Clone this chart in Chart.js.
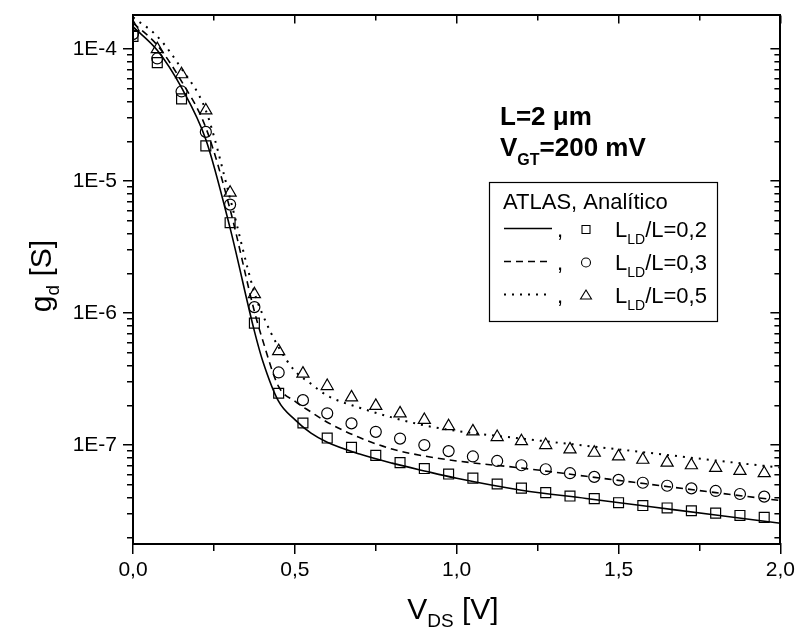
<!DOCTYPE html>
<html><head><meta charset="utf-8">
<script src="https://cdn.jsdelivr.net/npm/chart.js@4.4.0/dist/chart.umd.min.js"></script>
<style>html,body{margin:0;padding:0;background:#fff}canvas{display:block}</style>
</head><body>
<canvas id="c" width="799" height="632"></canvas>
<script>
// ---- data ----
const vds = [0, 0.075, 0.15, 0.225, 0.3, 0.375, 0.45, 0.525, 0.6, 0.675, 0.75, 0.825, 0.9, 0.975,
             1.05, 1.125, 1.2, 1.275, 1.35, 1.425, 1.5, 1.575, 1.65, 1.725, 1.8, 1.875, 1.95];
// ATLAS simulation points
const atlas02 = [1.25e-4, 7.9e-5, 4.2e-5, 1.85e-5, 4.84e-6, 8.4e-7, 2.47e-7, 1.47e-7, 1.13e-7, 9.6e-8,
                 8.35e-8, 7.36e-8, 6.64e-8, 6.03e-8, 5.62e-8, 5.07e-8, 4.72e-8, 4.36e-8, 4.11e-8, 3.93e-8,
                 3.66e-8, 3.48e-8, 3.34e-8, 3.18e-8, 3.05e-8, 2.93e-8, 2.83e-8];
const atlas03 = [1.3e-4, 8.5e-5, 4.78e-5, 2.36e-5, 6.64e-6, 1.11e-6, 3.55e-7, 2.19e-7, 1.74e-7, 1.46e-7,
                 1.26e-7, 1.12e-7, 1.0e-7, 9.0e-8, 8.2e-8, 7.58e-8, 7.03e-8, 6.56e-8, 6.12e-8, 5.74e-8,
                 5.45e-8, 5.18e-8, 4.92e-8, 4.7e-8, 4.49e-8, 4.26e-8, 4.07e-8];
const atlas05 = [1.47e-4, 1.0e-4, 6.45e-5, 3.43e-5, 8.17e-6, 1.39e-6, 5.15e-7, 3.48e-7, 2.8e-7, 2.3e-7,
                 1.98e-7, 1.74e-7, 1.55e-7, 1.39e-7, 1.27e-7, 1.15e-7, 1.07e-7, 1.0e-7, 9.27e-8, 8.75e-8,
                 8.21e-8, 7.74e-8, 7.36e-8, 7.03e-8, 6.71e-8, 6.37e-8, 6.12e-8];
// Analytic model curves
const curveV = [0, 0.075, 0.15, 0.225, 0.3, 0.375, 0.4, 0.45, 0.5, 0.55, 0.6, 0.7, 0.8, 0.9, 1.0, 1.2, 1.4, 1.6, 1.8, 2.0];
const model02 = [1.48e-4, 9.8e-5, 5.1e-5, 2.07e-5, 4.4e-6, 7.3e-7, 4.4e-7, 2.14e-7, 1.56e-7, 1.23e-7,
                 1.05e-7, 8.55e-8, 7.3e-8, 6.37e-8, 5.6e-8, 4.55e-8, 3.94e-8, 3.41e-8, 2.95e-8, 2.56e-8];
const model03 = [1.58e-4, 1.07e-4, 5.7e-5, 2.54e-5, 6.1e-6, 1.03e-6, 6.3e-7, 2.77e-7, 2.15e-7, 1.78e-7,
                 1.49e-7, 1.14e-7, 9.33e-8, 8.26e-8, 7.58e-8, 6.7e-8, 5.8e-8, 5.03e-8, 4.36e-8, 3.8e-8];
const model05 = [1.74e-4, 1.25e-4, 7.1e-5, 3.43e-5, 7.4e-6, 1.43e-6, 9.8e-7, 5.5e-7, 3.65e-7, 2.91e-7,
                 2.37e-7, 1.92e-7, 1.62e-7, 1.41e-7, 1.28e-7, 1.12e-7, 9.88e-8, 8.7e-8, 7.64e-8, 6.75e-8];
// ticks and texts
const xTickValues = [0, 0.5, 1.0, 1.5, 2.0];
const xTickLabels = ['0,0', '0,5', '1,0', '1,5', '2,0'];
const yTickValues = [1e-7, 1e-6, 1e-5, 1e-4];
const yTickLabels = ['1E-7', '1E-6', '1E-5', '1E-4'];
const legendRatios = ['0,2', '0,3', '0,5'];
const Y_MIN = 1.78e-8, Y_MAX = 1.8e-4;

// ---- helpers ----
const FONT = "'Liberation Sans', Arial, sans-serif";
Chart.defaults.font.family = FONT;
Chart.defaults.color = '#000';

const yTicksAll = [];
for (let e = -8; e <= -4; e++) {
  for (let m = 1; m <= 9; m++) {
    const v = parseFloat((m * Math.pow(10, e)).toPrecision(3));
    if (v >= Y_MIN && v <= Y_MAX) yTicksAll.push(v);
  }
}
function isMajorY(v) { const l = Math.log10(v); return Math.abs(l - Math.round(l)) < 1e-6; }
function isMajorX(v) { return xTickValues.some(t => Math.abs(t - v) < 1e-9); }
const pts = (xs, ys) => xs.map((x, i) => ({x: x, y: ys[i]}));

function partsWidth(ctx, parts, size, weight) {
  let w = 0;
  for (const [t, sub] of parts) {
    ctx.font = `${weight} ${sub ? Math.round(size * 0.62) : size}px ${FONT}`;
    w += ctx.measureText(t).width;
  }
  return w;
}
function drawParts(ctx, parts, x, y, size, weight, subOff) {
  let cx = x;
  const off = subOff === undefined ? 0.33 : subOff;
  for (const [t, sub] of parts) {
    ctx.font = `${weight} ${sub ? Math.round(size * 0.62) : size}px ${FONT}`;
    ctx.fillText(t, cx, sub ? y + size * off : y);
    cx += ctx.measureText(t).width;
  }
}

const textPlugin = {
  id: 'texts',
  afterDraw(chart) {
    const ctx = chart.ctx;
    ctx.save();
    ctx.fillStyle = '#000';
    ctx.strokeStyle = '#000';
    ctx.textAlign = 'left';
    ctx.textBaseline = 'alphabetic';
    // axis titles
    const xParts = [['V', 0], ['DS', 1], [' [V]', 0]];
    const wx = partsWidth(ctx, xParts, 30, 'normal');
    drawParts(ctx, xParts, 453 - wx / 2, 619, 30, 'normal', 0.27);
    const yParts = [['g', 0], ['d', 1], [' [S]', 0]];
    const wy = partsWidth(ctx, yParts, 30, 'normal');
    ctx.save();
    ctx.translate(51, 276);
    ctx.rotate(-Math.PI / 2);
    drawParts(ctx, yParts, -wy / 2, 0, 30, 'normal', 0.27);
    ctx.restore();
    // annotation
    drawParts(ctx, [['L=2 \u03BCm', 0]], 500, 125, 26, 'bold');
    drawParts(ctx, [['V', 0], ['GT', 1], ['=200 mV', 0]], 500, 156, 26, 'bold');
    // legend box
    ctx.lineWidth = 1.2;
    ctx.strokeRect(489.5, 182.5, 228, 139);
    drawParts(ctx, [['ATLAS, Anal\u00EDtico', 0]], 503, 209, 22, 'normal');
    const rows = [
      {y: 228.5, dash: [], lw: 1.6, style: 'rect'},
      {y: 261.5, dash: [7, 5], lw: 1.6, style: 'circle'},
      {y: 294.5, dash: [2, 6], lw: 2, style: 'triangle'}
    ];
    rows.forEach((r, i) => {
      ctx.lineWidth = r.lw;
      ctx.setLineDash(r.dash);
      ctx.beginPath(); ctx.moveTo(504, r.y); ctx.lineTo(552, r.y); ctx.stroke();
      ctx.setLineDash([]);
      drawParts(ctx, [[',', 0]], 557, r.y + 8, 22, 'normal');
      ctx.lineWidth = 1.1;
      ctx.beginPath();
      const mx = 586, my = r.y + 1;
      if (r.style === 'rect') ctx.rect(mx - 4, my - 4, 8, 8);
      else if (r.style === 'circle') ctx.arc(mx, my, 4.5, 0, Math.PI * 2);
      else { ctx.moveTo(mx, my - 5.5); ctx.lineTo(mx + 5.5, my + 3.5); ctx.lineTo(mx - 5.5, my + 3.5); ctx.closePath(); }
      ctx.stroke();
      drawParts(ctx, [['L', 0], ['LD', 1], ['/L=' + legendRatios[i], 0]], 615, r.y + 8, 22, 'normal');
    });
    ctx.restore();
  }
};

const lineBase = {showLine: true, pointRadius: 0, borderColor: '#000', fill: false,
                  cubicInterpolationMode: 'monotone', xAxisID: 'x', yAxisID: 'y'};
const markBase = {showLine: false, borderColor: '#000', pointBorderColor: '#000',
                  pointBackgroundColor: 'rgba(0,0,0,0)', backgroundColor: 'rgba(0,0,0,0)',
                  pointBorderWidth: 1.2, xAxisID: 'x', yAxisID: 'y'};

new Chart(document.getElementById('c'), {
  type: 'scatter',
  data: {
    datasets: [
      Object.assign({label: 'model 0,2', data: pts(curveV, model02), borderWidth: 1.6}, lineBase),
      Object.assign({label: 'model 0,3', data: pts(curveV, model03), borderWidth: 1.6, borderDash: [7, 5]}, lineBase),
      Object.assign({label: 'model 0,5', data: pts(curveV, model05), borderWidth: 2, borderDash: [2, 6]}, lineBase),
      Object.assign({label: 'ATLAS 0,2', data: pts(vds, atlas02), pointStyle: 'rect', pointRadius: 7}, markBase),
      Object.assign({label: 'ATLAS 0,3', data: pts(vds, atlas03), pointStyle: 'circle', pointRadius: 5.5}, markBase),
      Object.assign({label: 'ATLAS 0,5', data: pts(vds, atlas05), pointStyle: 'triangle', pointRadius: 7}, markBase)
    ]
  },
  options: {
    responsive: false,
    animation: false,
    events: [],
    layout: {padding: 0},
    plugins: {legend: {display: false}, tooltip: {enabled: false}, title: {display: false}},
    scales: {
      x: {
        type: 'linear', position: 'bottom', min: 0, max: 2,
        afterFit(s) { s.height = 88; },
        ticks: {
          stepSize: 0.25, autoSkip: false, maxRotation: 0, minRotation: 0, padding: 4,
          font: {size: 21}, color: '#000',
          callback(v) { const i = xTickValues.findIndex(t => Math.abs(t - v) < 1e-9); return i >= 0 ? xTickLabels[i] : ''; }
        },
        grid: {
          display: true, drawOnChartArea: true, drawTicks: true, color: '#000', lineWidth: 1.5,
          tickLength: 10, tickWidth: 1.5,
          tickBorderDash(ctx) { const v = ctx.tick ? ctx.tick.value : 0; return isMajorX(v) ? [] : [6, 100]; }
        },
        border: {
          display: true, color: '#000', width: 2,
          // grid-line dash: only a short inward tick at the top edge stays visible
          dash(ctx) {
            if (ctx.type !== 'tick' || !ctx.tick) return [];
            return [isMajorX(ctx.tick.value) ? 8 : 5, 100000];
          }
        }
      },
      y: {
        type: 'logarithmic', position: 'left', min: Y_MIN, max: Y_MAX,
        afterFit(s) { s.width = 133; },
        afterBuildTicks(s) { s.ticks = yTicksAll.map(v => ({value: v, major: isMajorY(v)})); },
        ticks: {
          autoSkip: false, padding: 6, font: {size: 21, lineHeight: 0.9}, color: '#000',
          callback(v) { const i = yTickValues.findIndex(t => Math.abs(t - v) / t < 1e-6); return i >= 0 ? yTickLabels[i] : ''; }
        },
        grid: {
          display: true, drawOnChartArea: true, drawTicks: true, color: '#000', lineWidth: 1.5,
          tickLength: 10, tickWidth: 1.5,
          tickBorderDash(ctx) { return (ctx.tick && isMajorY(ctx.tick.value)) ? [] : [0, 4, 6, 100]; }
        },
        border: {
          display: true, color: '#000', width: 2,
          // grid-line dash: only a short inward tick at the right edge stays visible
          dash(ctx) {
            if (ctx.type !== 'tick' || !ctx.tick) return [];
            const a = ctx.chart.chartArea; const L = a.right - a.left - 1;
            const len = isMajorY(ctx.tick.value) ? 10 : 6;
            return [0, L - len, len, 100000];
          }
        }
      },
      x2: {
        type: 'linear', position: 'top', min: 0, max: 2, display: true,
        afterFit(s) { s.height = 10; },
        ticks: {display: false}, grid: {display: false, drawTicks: false},
        border: {display: true, color: '#000', width: 2}
      },
      y2: {
        type: 'logarithmic', position: 'right', min: Y_MIN, max: Y_MAX, display: true,
        afterFit(s) { s.width = 17; },
        ticks: {display: false}, grid: {display: false, drawTicks: false},
        border: {display: true, color: '#000', width: 2}
      }
    }
  },
  plugins: [textPlugin]
});
</script>
</body></html>
